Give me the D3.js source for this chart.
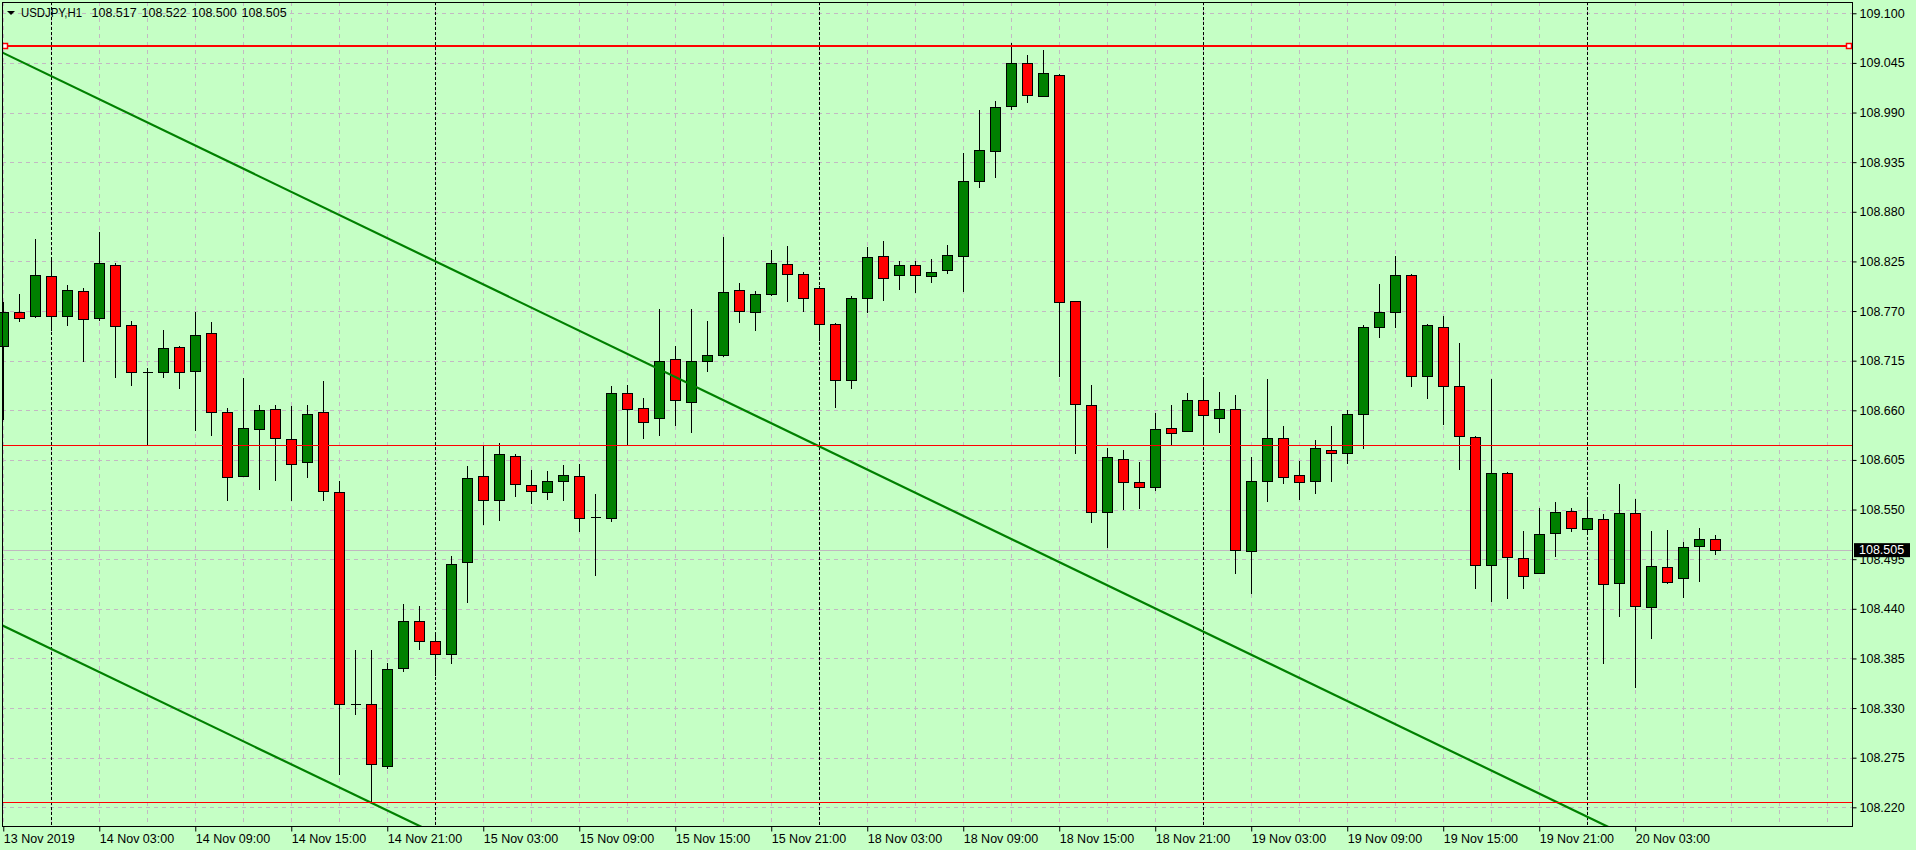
<!DOCTYPE html>
<html>
<head>
<meta charset="utf-8">
<script src="https://d3js.org/d3.v7.min.js"></script>
<style>
  body { margin: 0; background: #c5ffc5; }
  svg { display: block; font-family: "Liberation Sans", Arial, sans-serif; }
</style>
</head>
<body>
<svg id="chart" width="1916" height="850"></svg>
<script>
// USDJPY H1 candles, first bar is 13 Nov 2019 21:00
var opens = [
  108.731, 108.769, 108.764, 108.809, 108.764, 108.792, 108.762, 108.821, 108.754, 108.702,
  108.702, 108.730, 108.704, 108.746, 108.658, 108.587, 108.639, 108.661, 108.628, 108.603,
  108.658, 108.570, 108.334, 108.334, 108.266, 108.374, 108.427, 108.404, 108.390, 108.492,
  108.587, 108.561, 108.609, 108.577, 108.570, 108.582, 108.587, 108.542, 108.541, 108.679,
  108.662, 108.652, 108.717, 108.669, 108.715, 108.721, 108.793, 108.769, 108.789, 108.822,
  108.811, 108.795, 108.756, 108.694, 108.785, 108.831, 108.810, 108.821, 108.809, 108.815,
  108.831, 108.914, 108.947, 108.997, 109.045, 109.008, 109.032, 108.781, 108.666, 108.547,
  108.606, 108.581, 108.575, 108.640, 108.637, 108.671, 108.651, 108.661, 108.504, 108.582,
  108.629, 108.588, 108.582, 108.616, 108.613, 108.656, 108.752, 108.769, 108.810, 108.698,
  108.752, 108.687, 108.630, 108.488, 108.590, 108.496, 108.480, 108.524, 108.548, 108.529,
  108.540, 108.469, 108.546, 108.442, 108.486, 108.474, 108.510, 108.517
];
var highs = [
  108.780, 108.789, 108.850, 108.827, 108.799, 108.796, 108.858, 108.823, 108.759, 108.707,
  108.749, 108.731, 108.769, 108.758, 108.662, 108.696, 108.666, 108.666, 108.665, 108.666,
  108.692, 108.582, 108.394, 108.394, 108.380, 108.445, 108.443, 108.414, 108.499, 108.598,
  108.621, 108.624, 108.612, 108.594, 108.593, 108.599, 108.601, 108.567, 108.687, 108.688,
  108.674, 108.772, 108.731, 108.772, 108.759, 108.852, 108.801, 108.792, 108.838, 108.842,
  108.813, 108.798, 108.757, 108.787, 108.841, 108.848, 108.825, 108.825, 108.828, 108.843,
  108.945, 108.993, 109.003, 109.067, 109.054, 109.059, 109.033, 108.781, 108.688, 108.618,
  108.616, 108.603, 108.657, 108.666, 108.679, 108.694, 108.680, 108.677, 108.608, 108.695,
  108.643, 108.604, 108.627, 108.643, 108.660, 108.754, 108.800, 108.831, 108.811, 108.756,
  108.765, 108.735, 108.631, 108.695, 108.592, 108.526, 108.552, 108.558, 108.552, 108.561,
  108.545, 108.578, 108.562, 108.526, 108.527, 108.514, 108.530, 108.522
];
var lows = [
  108.649, 108.758, 108.762, 108.748, 108.753, 108.714, 108.759, 108.696, 108.687, 108.622,
  108.696, 108.684, 108.637, 108.632, 108.559, 108.586, 108.572, 108.582, 108.559, 108.585,
  108.559, 108.256, 108.322, 108.225, 108.262, 108.370, 108.394, 108.365, 108.379, 108.446,
  108.533, 108.537, 108.564, 108.556, 108.561, 108.559, 108.525, 108.476, 108.536, 108.620,
  108.628, 108.632, 108.643, 108.635, 108.702, 108.719, 108.757, 108.748, 108.787, 108.780,
  108.769, 108.737, 108.663, 108.684, 108.768, 108.781, 108.793, 108.790, 108.801, 108.811,
  108.791, 108.906, 108.918, 108.993, 109.001, 109.007, 108.697, 108.612, 108.535, 108.507,
  108.550, 108.551, 108.571, 108.622, 108.636, 108.624, 108.635, 108.479, 108.456, 108.558,
  108.578, 108.561, 108.567, 108.581, 108.601, 108.617, 108.740, 108.751, 108.686, 108.673,
  108.644, 108.594, 108.462, 108.447, 108.451, 108.462, 108.479, 108.497, 108.525, 108.525,
  108.379, 108.431, 108.352, 108.406, 108.467, 108.452, 108.470, 108.500
];
var closes = [
  108.769, 108.762, 108.810, 108.765, 108.793, 108.761, 108.823, 108.753, 108.703, 108.702,
  108.729, 108.702, 108.743, 108.658, 108.586, 108.640, 108.660, 108.629, 108.600, 108.656,
  108.571, 108.334, 108.334, 108.268, 108.373, 108.427, 108.404, 108.390, 108.490, 108.585,
  108.561, 108.612, 108.578, 108.571, 108.582, 108.588, 108.541, 108.542, 108.679, 108.661,
  108.647, 108.715, 108.671, 108.715, 108.721, 108.791, 108.770, 108.789, 108.823, 108.811,
  108.785, 108.756, 108.694, 108.784, 108.830, 108.807, 108.821, 108.810, 108.813, 108.832,
  108.914, 108.948, 108.996, 109.045, 109.009, 109.034, 108.780, 108.667, 108.547, 108.608,
  108.581, 108.575, 108.639, 108.635, 108.671, 108.655, 108.661, 108.505, 108.582, 108.629,
  108.586, 108.581, 108.618, 108.613, 108.656, 108.752, 108.769, 108.810, 108.698, 108.754,
  108.687, 108.631, 108.488, 108.591, 108.497, 108.476, 108.523, 108.547, 108.530, 108.541,
  108.468, 108.546, 108.443, 108.487, 108.470, 108.508, 108.517, 108.505
];

// axis labels
var priceTicks = [109.100, 109.045, 108.990, 108.935, 108.880, 108.825, 108.770, 108.715, 108.660,
                  108.605, 108.550, 108.495, 108.440, 108.385, 108.330, 108.275, 108.220];
var timeLabels = ["13 Nov 2019", "14 Nov 03:00", "14 Nov 09:00", "14 Nov 15:00", "14 Nov 21:00",
                  "15 Nov 03:00", "15 Nov 09:00", "15 Nov 15:00", "15 Nov 21:00", "18 Nov 03:00",
                  "18 Nov 09:00", "18 Nov 15:00", "18 Nov 21:00", "19 Nov 03:00", "19 Nov 09:00",
                  "19 Nov 15:00", "19 Nov 21:00", "20 Nov 03:00"];
var symbolText = "USDJPY,H1";

// chart objects: horizontal levels and two trend lines (bar index, price)
var levels = [109.064, 108.6215, 108.2256];
var trend1 = [[0, 109.056], [100, 108.201]];
var trend2 = [[0, 108.421], [26, 108.1995]];

// plot frame
var plotLeft = 2, plotRight = 1852, plotTop = 2, plotBottom = 826;
var svg = d3.select("#chart");
var fmt3 = d3.format(".3f");

// hourly bar times, weekend skipped
var times = [];
var t = Date.UTC(2019, 10, 13, 21);
for (var i = 0; i < closes.length; i++) {
  var d = new Date(t);
  if (d.getUTCDay() == 6) { t += 48 * 3600e3; d = new Date(t); }
  times.push(d);
  t += 3600e3;
}
var fmtHour = d3.utcFormat("%d %b %H:%M");
var fmtYear = d3.utcFormat("%d %b %Y");

var x = d3.scaleLinear().domain([-0.08, 115.55]).range([plotLeft, plotRight]);
var y = d3.scaleLinear().domain([108.1993, 109.1125]).range([plotBottom, plotTop]);

var bars = closes.map(function(c, i) {
  return {i: i, o: opens[i], h: highs[i], l: lows[i], c: c, t: times[i]};
});
var last = bars[bars.length - 1];

// background
svg.append("rect").attr("width", 1916).attr("height", 850).attr("fill", "#c5ffc5");

// grid
var grid = svg.append("g").attr("shape-rendering", "crispEdges");
grid.selectAll(".hgrid").data(priceTicks).enter().append("line")
  .attr("x1", plotLeft).attr("x2", plotRight)
  .attr("y1", function(d) { return Math.round(y(d)) + 0.5; })
  .attr("y2", function(d) { return Math.round(y(d)) + 0.5; })
  .attr("stroke", "#c3b8c3").attr("stroke-dasharray", "4,4");
grid.selectAll(".vgrid").data(d3.range(0, 116, 3)).enter().append("line")
  .attr("x1", function(d) { return Math.round(x(d)) + 0.5; })
  .attr("x2", function(d) { return Math.round(x(d)) + 0.5; })
  .attr("y1", plotTop).attr("y2", plotBottom)
  .attr("stroke", "#c3b8c3").attr("stroke-dasharray", "4,4");

// day separators
grid.selectAll(".sep").data(bars.filter(function(b) { return b.t.getUTCHours() == 0; })).enter().append("line")
  .attr("x1", function(b) { return Math.round(x(b.i)) + 0.5; })
  .attr("x2", function(b) { return Math.round(x(b.i)) + 0.5; })
  .attr("y1", plotTop).attr("y2", plotBottom)
  .attr("stroke", "#000").attr("stroke-dasharray", "3,2");

// current price line
svg.append("line")
  .attr("x1", plotLeft).attr("x2", plotRight)
  .attr("y1", Math.round(y(last.c)) + 0.5).attr("y2", Math.round(y(last.c)) + 0.5)
  .attr("stroke", "#c0b8c0").attr("shape-rendering", "crispEdges");

// candles
var candles = svg.append("g").attr("shape-rendering", "crispEdges");
var cx = function(b) { return Math.round(x(b.i)) + 0.5; };
candles.selectAll(".wick").data(bars).enter().append("line")
  .attr("x1", cx).attr("x2", cx)
  .attr("y1", function(b) { return Math.round(y(b.h)); })
  .attr("y2", function(b) { return Math.round(y(b.l)); })
  .attr("stroke", "#000");
candles.selectAll(".body").data(bars.filter(function(b) { return b.o != b.c; })).enter().append("rect")
  .attr("x", function(b) { return cx(b) - 5; })
  .attr("width", 10)
  .attr("y", function(b) { return Math.round(y(Math.max(b.o, b.c))) + 0.5; })
  .attr("height", function(b) { return Math.max(1, Math.round(y(Math.min(b.o, b.c))) - Math.round(y(Math.max(b.o, b.c)))); })
  .attr("fill", function(b) { return b.c > b.o ? "#008000" : "#ff0000"; })
  .attr("stroke", "#000");
candles.selectAll(".doji").data(bars.filter(function(b) { return b.o == b.c; })).enter().append("line")
  .attr("x1", function(b) { return cx(b) - 5; })
  .attr("x2", function(b) { return cx(b) + 5; })
  .attr("y1", function(b) { return Math.round(y(b.o)) + 0.5; })
  .attr("y2", function(b) { return Math.round(y(b.o)) + 0.5; })
  .attr("stroke", "#000");

// objects, clipped to the plot
svg.append("clipPath").attr("id", "plotclip").append("rect")
  .attr("x", plotLeft).attr("y", plotTop)
  .attr("width", plotRight - plotLeft).attr("height", plotBottom - plotTop);
var objects = svg.append("g").attr("clip-path", "url(#plotclip)");

[trend1, trend2].forEach(function(tl) {
  var slope = (tl[1][1] - tl[0][1]) / (tl[1][0] - tl[0][0]);
  var ends = [-2, 120].map(function(b) { return [b, tl[0][1] + slope * (b - tl[0][0])]; });
  objects.append("path")
    .attr("d", d3.line().x(function(p) { return x(p[0]); }).y(function(p) { return y(p[1]); })(ends))
    .attr("stroke", "#008000").attr("stroke-width", 2.2).attr("fill", "none");
});

levels.forEach(function(lv, k) {
  var ly = k == 0 ? Math.round(y(lv)) : Math.round(y(lv)) + 0.5;
  objects.append("line")
    .attr("x1", plotLeft).attr("x2", plotRight)
    .attr("y1", ly).attr("y2", ly)
    .attr("stroke", "#ff0000").attr("stroke-width", k == 0 ? 2 : 1)
    .attr("shape-rendering", "crispEdges");
  if (k == 0) {
    // selection handles of the chosen line
    [plotLeft + 3, plotRight - 3].forEach(function(hx) {
      objects.append("rect")
        .attr("x", hx - 2.5).attr("y", ly - 2.5).attr("width", 5).attr("height", 5)
        .attr("fill", "#fff").attr("stroke", "#ff0000").attr("stroke-width", 1.5);
    });
  }
});

// frame
svg.append("rect")
  .attr("x", plotLeft + 0.5).attr("y", plotTop + 0.5)
  .attr("width", plotRight - plotLeft).attr("height", plotBottom - plotTop)
  .attr("fill", "none").attr("stroke", "#000").attr("shape-rendering", "crispEdges");

// price axis
var yAxis = svg.append("g")
  .attr("transform", "translate(" + (plotRight + 0.5) + ",0)")
  .call(d3.axisRight(y).tickValues(priceTicks).tickSize(4).tickPadding(3).tickSizeOuter(0)
    .tickFormat(fmt3));
yAxis.select(".domain").remove();
yAxis.attr("font-size", 12.5).attr("font-family", null);
yAxis.selectAll("text").attr("fill", "#000");
yAxis.selectAll("line").attr("stroke", "#000");

// time axis
var tickBars = timeLabels.map(function(lab) {
  return times.findIndex(function(d) { return fmtHour(d) == lab || fmtYear(d) == lab; });
});
var xAxis = svg.append("g")
  .attr("transform", "translate(0," + (plotBottom + 0.5) + ")")
  .call(d3.axisBottom(x).tickValues(tickBars).tickSize(5).tickPadding(3).tickSizeOuter(0)
    .tickFormat(function(d, i) { return timeLabels[i]; }));
xAxis.select(".domain").remove();
xAxis.attr("font-size", 12.5).attr("font-family", null);
xAxis.selectAll("text").attr("fill", "#000").attr("text-anchor", "start");
xAxis.selectAll("line").attr("stroke", "#000");

// last price label
svg.append("rect")
  .attr("x", plotRight + 2).attr("y", y(last.c) - 7)
  .attr("width", 56).attr("height", 14).attr("fill", "#000");
svg.append("text")
  .attr("x", plotRight + 7).attr("y", y(last.c)).attr("dy", "0.32em")
  .attr("font-size", 12.5).attr("fill", "#fff")
  .text(fmt3(last.c));

// title: symbol, period and last bar OHLC
svg.append("path").attr("d", "M7,11L15,11L11,15Z").attr("fill", "#000");
var title = svg.append("g").attr("font-size", 12.5).attr("fill", "#000");
title.append("text").attr("x", 21).attr("y", 16.5)
  .attr("textLength", 61).attr("lengthAdjust", "spacingAndGlyphs")
  .text(symbolText);
title.selectAll(".ohlc").data([last.o, last.h, last.l, last.c]).enter().append("text")
  .attr("x", function(d, i) { return 91.5 + 50 * i; }).attr("y", 16.5)
  .text(fmt3);
</script>
</body>
</html>
